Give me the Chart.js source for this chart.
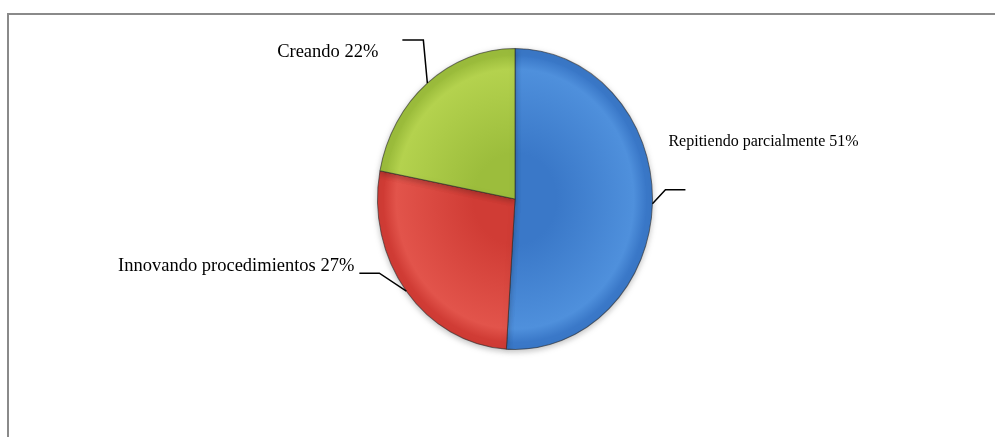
<!DOCTYPE html>
<html lang="es">
<head>
  <meta charset="UTF-8">
  <title>Pie chart</title>
  <style>
    html, body { margin: 0; padding: 0; background: #fff; }
    .frame {
      position: absolute;
      left: 7px; top: 13px; width: 988px; height: 424px;
      border-top: 2px solid #8a8a8a;
      border-left: 2px solid #8a8a8a;
      box-sizing: border-box;
    }
    .chart__box { position: absolute; left: 0; top: 0; width: 995px; height: 437px; }
  </style>
</head>
<body>
  <div class="frame"></div>
  <div class="chart__box">
    <canvas id="pieChart" width="995" height="437"></canvas>
  </div>

  <script src="https://cdn.jsdelivr.net/npm/chart.js"></script>
  <script>
    // Data
    const categories = ['Repitiendo parcialmente', 'Innovando procedimientos', 'Creando'];
    const values = [51, 27, 22];
    const labelTexts = ['Repitiendo parcialmente 51%', 'Innovando procedimientos 27%', 'Creando 22%'];

    // slice colours: [light, dark]
    const sliceColors = [
      ['#4f90dc', '#3a78c8'],
      ['#e2544b', '#d03c35'],
      ['#b4d24e', '#9cbd3c']
    ];

    // leader line + text placement, relative to the slice edge midpoint
    const labelLayout = [
      { elbow: [13, -14], end: [33, -14], text: [16, -62], align: 'left', size: 16 },
      { elbow: [-27, -18], end: [-47, -18], text: [-52, -25], align: 'right', size: 18.5 },
      { elbow: [-4, -43], end: [-25, -43], text: [-49, -31], align: 'right', size: 18.5 }
    ];

    const yStretch = 151 / 138;

    function sliceFill(context) {
      const chart = context.chart;
      const area = chart.chartArea;
      const c = sliceColors[context.dataIndex];
      if (!area) return c[1];
      const cx = (area.left + area.right) / 2;
      const cy = (area.top + area.bottom) / 2;
      const r = (area.right - area.left) / 2;
      const g = chart.ctx.createRadialGradient(cx, cy, r * 0.3, cx, cy, r);
      g.addColorStop(0, c[1]);
      g.addColorStop(0.8, c[0]);
      g.addColorStop(0.93, c[1]);
      g.addColorStop(1, c[1]);
      return g;
    }

    // stretch the pie a bit vertically like the original
    const stretchPlugin = {
      id: 'stretch',
      beforeDatasetsDraw(chart) {
        const a = chart.chartArea;
        const cy = (a.top + a.bottom) / 2;
        const ctx = chart.ctx;
        ctx.save();
        ctx.translate(0, cy);
        ctx.scale(1, yStretch);
        ctx.translate(0, -cy);
        ctx.shadowColor = 'rgba(0,0,0,0.25)';
        ctx.shadowBlur = 6;
        ctx.shadowOffsetY = 2;
      },
      afterDatasetsDraw(chart) {
        chart.ctx.restore();
      }
    };

    const labelPlugin = {
      id: 'leaderLabels',
      afterDraw(chart) {
        const ctx = chart.ctx;
        const meta = chart.getDatasetMeta(0);
        meta.data.forEach((arc, i) => {
          const p = arc.getProps(['x', 'y', 'startAngle', 'endAngle', 'outerRadius'], true);
          const mid = (p.startAngle + p.endAngle) / 2;
          const ax = p.x + Math.cos(mid) * p.outerRadius;
          const ay = p.y + Math.sin(mid) * p.outerRadius * yStretch;
          const L = labelLayout[i];
          ctx.save();
          ctx.strokeStyle = '#000';
          ctx.lineWidth = 1.5;
          ctx.beginPath();
          ctx.moveTo(ax, ay);
          ctx.lineTo(ax + L.elbow[0], ay + L.elbow[1]);
          ctx.lineTo(ax + L.end[0], ay + L.end[1]);
          ctx.stroke();
          ctx.fillStyle = '#000';
          ctx.font = L.size + 'px "Liberation Serif", "Times New Roman", serif';
          ctx.textAlign = L.align;
          ctx.textBaseline = 'middle';
          ctx.fillText(labelTexts[i], ax + L.text[0], ay + L.text[1]);
          ctx.restore();
        });
      }
    };

    const config = {
      type: 'pie',
      data: {
        labels: categories,
        datasets: [{
          data: values,
          backgroundColor: sliceFill,
          borderColor: 'rgba(40,40,40,0.6)',
          borderWidth: 1
        }]
      },
      options: {
        responsive: false,
        animation: false,
        rotation: 0,
        layout: {
          padding: { left: 377, right: 342, top: 61, bottom: 100 }
        },
        plugins: {
          legend: { display: false },
          tooltip: { enabled: false }
        }
      },
      plugins: [stretchPlugin, labelPlugin]
    };

    const pieChart = new Chart(document.getElementById('pieChart'), config);
  </script>
</body>
</html>
